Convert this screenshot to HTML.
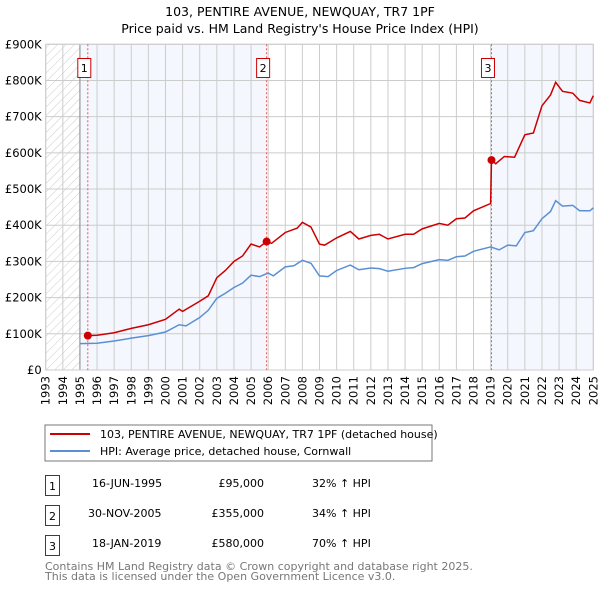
<!DOCTYPE html>
<html><head><meta charset="utf-8"><style>
body{margin:0;background:#fff;font-family:"Liberation Sans","DejaVu Sans",sans-serif}
svg text{font-family:"DejaVu Sans","Liberation Sans",sans-serif}
</style></head><body>
<svg id="c" width="600" height="590" xmlns="http://www.w3.org/2000/svg">
<defs><pattern id="h" width="6" height="6" patternUnits="userSpaceOnUse" patternTransform="rotate(45)"><line x1="0" y1="0" x2="0" y2="6" stroke="#ccc" stroke-width="1"/></pattern></defs>
<text x="300" y="16" text-anchor="middle" font-size="12.5">103, PENTIRE AVENUE, NEWQUAY, TR7 1PF</text>
<text x="300" y="33" text-anchor="middle" font-size="12.5">Price paid vs. HM Land Registry's House Price Index (HPI)</text>
<g id="plot"></g>
<rect x="45" y="425" width="387" height="36" fill="#fff" stroke="#777"/>
<line x1="50" y1="434" x2="90" y2="434" stroke="#c00" stroke-width="2"/>
<text x="100" y="438" font-size="11">103, PENTIRE AVENUE, NEWQUAY, TR7 1PF (detached house)</text>
<line x1="50" y1="451" x2="90" y2="451" stroke="#5b8fd4" stroke-width="2"/>
<text x="100" y="455" font-size="11">HPI: Average price, detached house, Cornwall</text>
<g font-size="11">
<rect x="45.5" y="475.5" width="14" height="20" fill="none" stroke="#c00"/><text x="52.5" y="490" text-anchor="middle">1</text>
<text x="92" y="487">16-JUN-1995</text><text x="264" y="487" text-anchor="end">£95,000</text><text x="312" y="487">32% ↑ HPI</text>
<rect x="45.5" y="505.5" width="14" height="20" fill="none" stroke="#c00"/><text x="52.5" y="520" text-anchor="middle">2</text>
<text x="88" y="517">30-NOV-2005</text><text x="264" y="517" text-anchor="end">£355,000</text><text x="312" y="517">34% ↑ HPI</text>
<rect x="45.5" y="535.5" width="14" height="20" fill="none" stroke="#c00"/><text x="52.5" y="550" text-anchor="middle">3</text>
<text x="92" y="547">18-JAN-2019</text><text x="264" y="547" text-anchor="end">£580,000</text><text x="312" y="547">70% ↑ HPI</text>
</g>
<text x="45" y="570" font-size="11" fill="#777">Contains HM Land Registry data © Crown copyright and database right 2025.</text>
<text x="45" y="580" font-size="11" fill="#777">This data is licensed under the Open Government Licence v3.0.</text>
</svg>
<script>
const yTicks=[0,100,200,300,400,500,600,700,800,900];
const yTickLabels=["£0","£100K","£200K","£300K","£400K","£500K","£600K","£700K","£800K","£900K"];
const years=[1993,1994,1995,1996,1997,1998,1999,2000,2001,2002,2003,2004,2005,2006,2007,2008,2009,2010,2011,2012,2013,2014,2015,2016,2017,2018,2019,2020,2021,2022,2023,2024,2025];
const saleDates=[1995.46,2005.91,2019.05];
const salePrices=[95,355,580];
const saleLabels=["1","2","3"];
const hpiX=[1995.0,1996,1997,1998,1999,2000,2000.8,2001.2,2002,2002.5,2003,2003.5,2004,2004.5,2005,2005.5,2006,2006.3,2007,2007.5,2008,2008.5,2009,2009.5,2010,2010.8,2011.3,2012,2012.5,2013,2014,2014.5,2015,2016,2016.5,2017,2017.5,2018,2019,2019.5,2020,2020.5,2021,2021.5,2022,2022.5,2022.8,2023.2,2023.8,2024.2,2024.8,2025];
const hpiY=[73,74,80,88,95,105,125,122,145,165,198,212,228,240,262,258,268,260,285,288,303,295,260,258,275,290,277,282,280,273,281,283,294,305,303,313,315,328,340,332,345,343,380,385,418,438,468,453,455,440,440,448];
const redX=[1995.46,1996,1997,1998,1999,2000,2000.8,2001,2002,2002.5,2003,2003.5,2004,2004.5,2005,2005.5,2005.91,2006.2,2006.6,2007,2007.7,2008,2008.5,2009,2009.3,2010,2010.8,2011.3,2012,2012.5,2013,2014,2014.5,2015,2016,2016.5,2017,2017.5,2018,2019.0,2019.05,2019.3,2019.8,2020.4,2021,2021.5,2022,2022.5,2022.8,2023.2,2023.8,2024.2,2024.8,2025];
const redY=[95,96,103,115,125,140,168,162,190,205,255,275,300,315,348,340,355,350,365,380,392,408,395,348,345,365,383,362,372,375,362,375,375,390,405,400,418,420,440,460,580,570,590,588,650,655,730,760,795,770,765,745,738,758];
const L=45.7,R=593.3,T=44.3,B=370;
const X=v=>L+(v-1993)*(R-L)/32, Y=v=>B-v*(B-T)/900;
const g=document.getElementById('plot');const NS='http://www.w3.org/2000/svg';
function mk(t,a,p){const e=document.createElementNS(NS,t);for(const k in a)e.setAttribute(k,a[k]);(p||g).appendChild(e);return e;}
let e;
e=mk('rect',{x:X(1995),y:T,width:X(saleDates[1])-X(1995),height:B-T,fill:'#f4f7fd'});


e=mk('rect',{x:X(saleDates[2]),y:T,width:R-X(saleDates[2]),height:B-T,fill:'#f4f7fd'});


e=mk('rect',{x:L,y:T,width:X(1995)-L,height:B-T,fill:'url(#h)'});


yTicks.forEach((v,i)=>{
 e=mk('line',{x1:L,x2:R,y1:Y(v),y2:Y(v),stroke:'#ccc'});
 
 
 e=mk('text',{x:L-4,y:Y(v)+4,'text-anchor':'end','font-size':11.5});e.textContent=yTickLabels[i];
 
 
});
years.forEach(v=>{
 e=mk('line',{x1:X(v),x2:X(v),y1:T,y2:B,stroke:'#ccc'});
 
 
 e=mk('text',{x:0,y:0,'text-anchor':'end','font-size':11.5,transform:`translate(${X(v)+4},${B+6}) rotate(-90)`});e.textContent=v;
 
 
});
e=mk('line',{x1:X(1995),x2:X(1995),y1:T,y2:B,stroke:'#888'});


e=mk('rect',{x:L,y:T,width:R-L,height:B-T,fill:'none',stroke:'#ccc'});


saleDates.forEach((d,i)=>{
 e=mk('line',{x1:X(d),x2:X(d),y1:T,y2:B,stroke:'#e55','stroke-dasharray':'2,2'});
 
 
 e=mk('rect',{x:X(d)-10,y:58.5,width:13,height:19,fill:'#fff',stroke:'#c00'});
 
 
 e=mk('text',{x:X(d)-3.5,y:72,'text-anchor':'middle','font-size':11});e.textContent=saleLabels[i];
 
 
});
e=mk('polyline',{points:hpiX.map((x,i)=>X(x)+','+Y(hpiY[i])).join(' '),fill:'none',stroke:'#5b8fd4','stroke-width':1.5});


e=mk('polyline',{points:redX.map((x,i)=>X(x)+','+Y(redY[i])).join(' '),fill:'none',stroke:'#c00','stroke-width':1.5});


saleDates.forEach((d,i)=>{
 e=mk('circle',{cx:X(d),cy:Y(salePrices[i]),r:4,fill:'#c00'});
 
 
});
</script>
</body></html>
